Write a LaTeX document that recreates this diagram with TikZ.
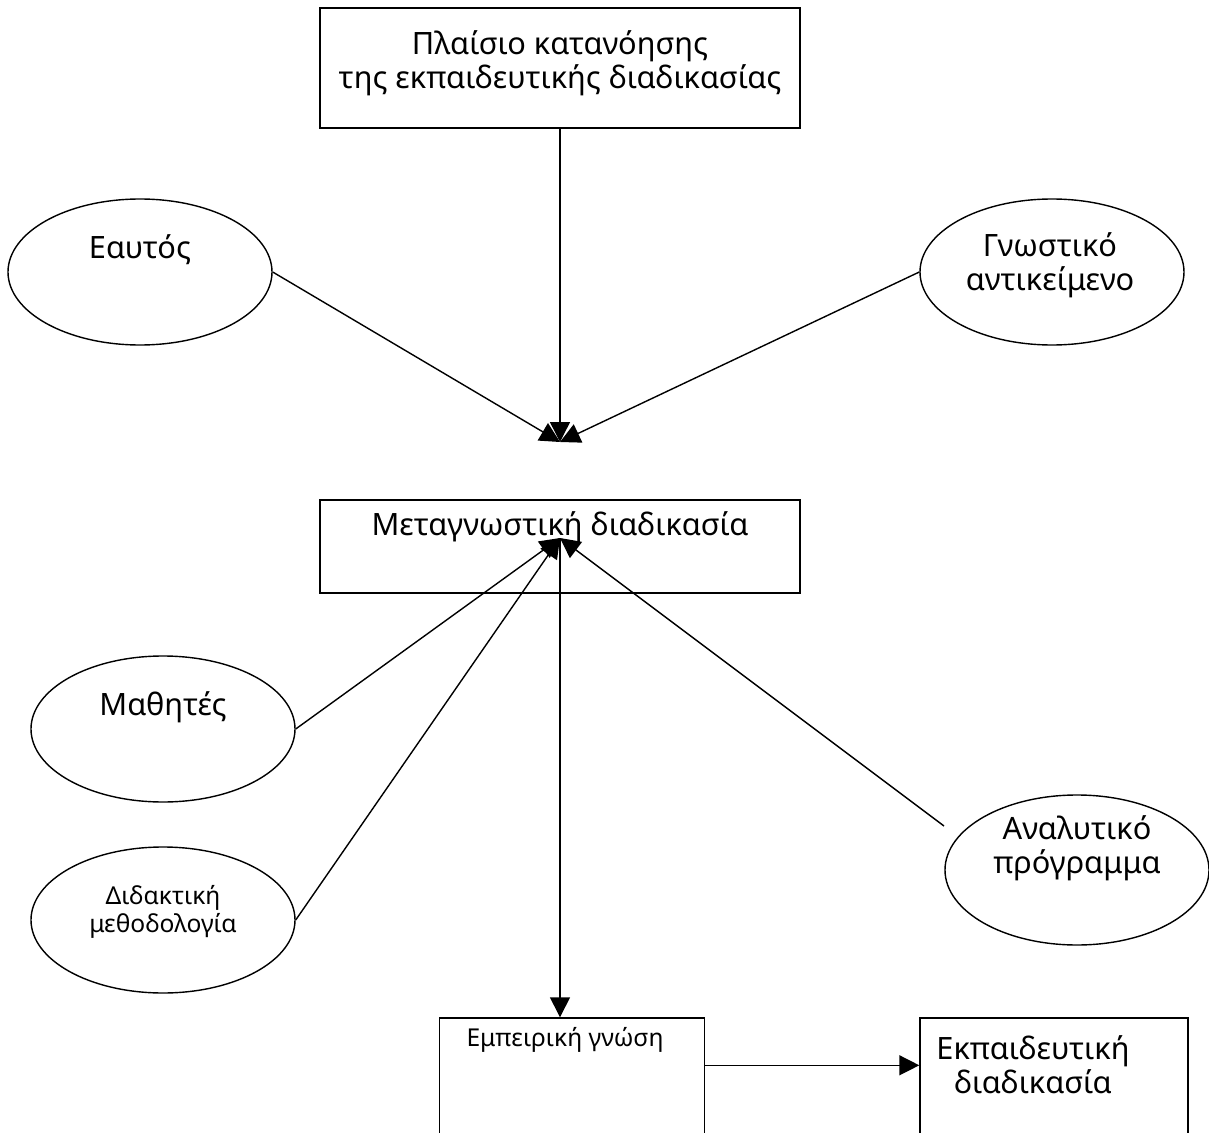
\documentclass[tikz,border=0pt]{standalone}
\usepackage{fontspec}
\setmainfont{Noto Sans}
\usetikzlibrary{shapes,arrows.meta}
\tikzset{%
	bigbox/.style   	= {draw, rectangle, minimum width = 9.6cm, minimum height = 2.4cm},
	metabox/.style  	= {draw, rectangle, minimum width = 9.6cm, minimum height = 1.86cm},
	lowbox/.style   	= {draw, rectangle, minimum width = 5.3cm, minimum height = 3cm},
	bubble/.style   	= {draw, ellipse, inner sep = 0pt, minimum width = 5.28cm, minimum height = 2.92cm}, % Ellipse
	bigtext/.style  	= {align = center, font = \fontsize{17.5}{19.5}\selectfont},
	smalltext/.style	= {align = center, font = \fontsize{14}{15.5}\selectfont},
	junction/.style 	= {coordinate} % Meeting point
}

\begin{document}
\begin{tikzpicture}[auto, thick, >={Triangle[length=4mm, width=4mm]}]
	\useasboundingbox (0,0) rectangle (24.18,-22.66);
	\clip (0,0) rectangle (24.18,-22.66);
	\draw % Boxes and bubbles of the diagram :
	node at (11.2, -1.36) [bigbox] (cadre) {}
	node at (11.2, -1.27) [bigtext] (cadretxt) {Πλαίσιο κατανόησης\\της εκπαιδευτικής διαδικασίας}
	node at (2.8, -5.44) [bubble] (eautos) {}
	node at (2.8, -5.0) [bigtext] (eautostxt) {Εαυτός}
	node at (21.04, -5.44) [bubble] (gnostiko) {}
	node at (21.0, -5.3) [bigtext] (gnostikotxt) {Γνωστικό\\αντικείμενο}
	node at (11.2, -10.93) [metabox] (meta) {}
	node at (11.2, -10.54) [bigtext] (metatxt) {Μεταγνωστική διαδικασία}
	node at (3.26, -14.58) [bubble] (mathites) {}
	node at (3.26, -14.14) [bigtext] (mathitestxt) {Μαθητές}
	node at (3.26, -18.4) [bubble] (didaktiki) {}
	node at (3.26, -18.24) [smalltext] (didaktikitxt) {Διδακτική\\μεθοδολογία}
	node at (21.54, -17.4) [bubble, minimum height = 3cm] (analytiko) {}
	node at (21.54, -16.96) [bigtext] (analytikotxt) {Αναλυτικό\\πρόγραμμα}
	node at (11.44, -21.86) [lowbox] (empeiriki) {}
	node at (11.3, -20.8) [smalltext] (empeirikitxt) {Εμπειρική γνώση}
	node at (21.08, -21.86) [lowbox, minimum width = 5.36cm] (ekpaideusi) {}
	node at (20.66, -21.3) [bigtext] (ekpaideusitxt) {Εκπαιδευτική\\διαδικασία}
	;
	\coordinate [junction] (top) at (11.2, -8.84);
	\coordinate [junction] (mid) at (11.2, -10.76);
	\coordinate [junction] (anastart) at (18.88, -16.52);

	% Connectors
	\draw[->] (cadre) -- (top);
	\draw[->] (eautos.east) -- (top);
	\draw[->] (gnostiko.west) -- (top);
	\draw[->] (mathites.east) -- (mid);
	\draw[->] (didaktiki.east) -- (mid);
	\draw[->] (anastart) -- (mid);
	\draw[->] (mid) -- (mid |- empeiriki.north);
	\draw[->] ([yshift=-0.96cm]empeiriki.north east) -- ([yshift=-0.96cm]ekpaideusi.north west);
\end{tikzpicture}
\end{document}
